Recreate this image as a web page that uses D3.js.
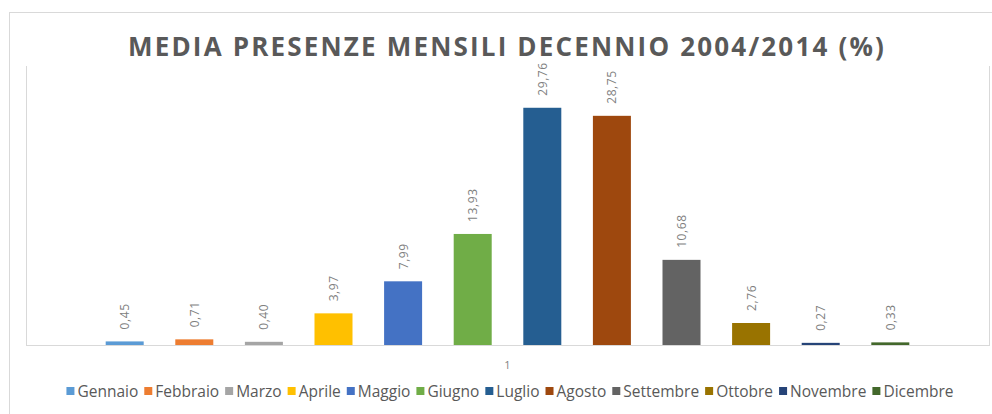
<!DOCTYPE html>
<meta charset="utf-8">
<title>Media presenze mensili</title>
<script src="https://d3js.org/d3.v7.min.js"></script>
<style>
body { margin: 0; background: #fff; }
text { font-family: "Open Sans", sans-serif; }
</style>
<div id="chart"></div>
<script>
const months = ["Gennaio", "Febbraio", "Marzo", "Aprile", "Maggio", "Giugno",
                "Luglio", "Agosto", "Settembre", "Ottobre", "Novembre", "Dicembre"];
const values = [0.45, 0.71, 0.40, 3.97, 7.99, 13.93, 29.76, 28.75, 10.68, 2.76, 0.27, 0.33];
const colors = ["#5B9BD5", "#ED7D31", "#A5A5A5", "#FFC000", "#4472C4", "#70AD47",
                "#255E91", "#9E480E", "#636363", "#997300", "#264478", "#43682B"];
const categoryLabel = "1";
const titleText = "MEDIA PRESENZE MENSILI DECENNIO 2004/2014 (%)";

const width = 992, height = 414;
const plot = {left: 26, right: 989, top: 66, bottom: 345};

const svg = d3.select("#chart")
    .append("svg")
    .attr("width", width)
    .attr("height", height);

// outer chart frame
svg.append("rect")
    .attr("x", 9.5).attr("y", 12.5)
    .attr("width", 1000).attr("height", 420)
    .attr("fill", "#fff")
    .attr("stroke", "#d9d9d9");

const x = d3.scaleBand()
    .domain(months)
    .range([plot.left, plot.right])
    .paddingInner(0.454)
    .paddingOuter(1.145);

const y = d3.scaleLinear()
    .domain([0, 35])
    .range([plot.bottom, plot.top]);

// plot area border (no top line)
const pa = svg.append("g").attr("stroke", "#d9d9d9").attr("fill", "none");
pa.append("line").attr("x1", plot.left + 0.5).attr("x2", plot.left + 0.5)
    .attr("y1", plot.top).attr("y2", plot.bottom);
pa.append("line").attr("x1", plot.right + 0.5).attr("x2", plot.right + 0.5)
    .attr("y1", plot.top).attr("y2", plot.bottom);
pa.append("line").attr("x1", plot.left).attr("x2", plot.right + 1)
    .attr("y1", plot.bottom + 0.5).attr("y2", plot.bottom + 0.5);

// bars
svg.append("g")
    .selectAll("rect")
    .data(values)
    .join("rect")
    .attr("x", (d, i) => x(months[i]))
    .attr("y", d => y(d))
    .attr("width", x.bandwidth())
    .attr("height", d => y(0) - y(d))
    .attr("fill", (d, i) => colors[i]);

// value labels, rotated
svg.append("g")
    .selectAll("text")
    .data(values)
    .join("text")
    .attr("transform", (d, i) =>
        `translate(${x(months[i]) + x.bandwidth() / 2}, ${y(d) - 12}) rotate(-90)`)
    .attr("text-anchor", "start")
    .attr("dominant-baseline", "central")
    .style("font-size", "12px")
    .style("letter-spacing", "0.6px")
    .attr("fill", "#7f7f7f")
    .text(d => d.toFixed(2).replace(".", ","));

// category label
svg.append("text")
    .attr("x", (plot.left + plot.right) / 2)
    .attr("y", 369)
    .attr("text-anchor", "middle")
    .style("font-size", "11px")
    .attr("fill", "#7f7f7f")
    .text(categoryLabel);

// title
const title = svg.append("text")
    .attr("x", 507)
    .attr("y", 56)
    .attr("text-anchor", "middle")
    .style("font-size", "26px")
    .style("font-weight", "bold")
    .attr("fill", "#595959")
    .text(titleText);
const tw = title.node().getComputedTextLength();
const ls = (758 - tw) / titleText.length;
title.style("letter-spacing", ls + "px");

// legend
const legend = svg.append("g");
const items = legend.selectAll("g")
    .data(months)
    .join("g");
items.append("rect")
    .attr("width", 8).attr("height", 8)
    .attr("y", -4)
    .attr("fill", (d, i) => colors[i]);
items.append("text")
    .attr("x", 11)
    .attr("dominant-baseline", "central")
    .style("font-size", "15.5px")
    .attr("fill", "#595959")
    .text(d => d);
let pos = 0;
items.each(function () {
    const g = d3.select(this);
    g.attr("transform", `translate(${pos}, 0)`);
    pos += 11 + g.select("text").node().getComputedTextLength() + 6;
});
const total = pos - 6;
legend.attr("transform", `translate(${510 - total / 2}, 391)`);
</script>
